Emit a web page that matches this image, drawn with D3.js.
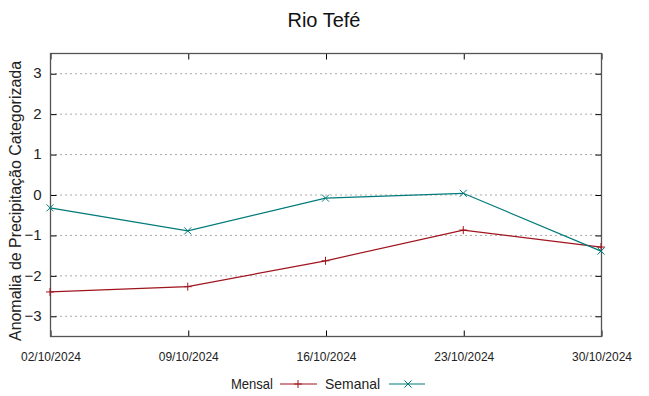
<!DOCTYPE html>
<html><head><meta charset="utf-8">
<script src="https://cdn.jsdelivr.net/npm/d3@7"></script>
<style>body{margin:0;background:#fff}svg{display:block}</style>
</head><body>
<svg id="c" width="649" height="396"></svg>
<script>
const dates = ["02/10/2024","09/10/2024","16/10/2024","23/10/2024","30/10/2024"];
const mensal = [-2.41, -2.28, -1.64, -0.88, -1.30];
const semanal = [-0.33, -0.90, -0.09, 0.03, -1.40];
const yTicks = [-3,-2,-1,0,1,2,3];
const title = "Rio Tefé";
const yLabel = "Anomalia de Precipitação Categorizada";

const svg = d3.select("#c");
const L = 50, R = 601, T = 53, B = 336;
const x = d3.scalePoint().domain(dates).range([L, R]);
const y = d3.scaleLinear().domain([-3.5, 3.5]).range([B, T]);
const red = "#a0141e", teal = "#007a7a";
const FONT = "Liberation Sans, Arial, sans-serif";

// grid
svg.append("g").selectAll("line").data(yTicks).join("line")
  .attr("x1", L).attr("x2", R).attr("y1", d => y(d)+0.5).attr("y2", d => y(d)+0.5)
  .attr("stroke", "#aaa").attr("stroke-width", 1).attr("stroke-dasharray", "2,3");

// axes with inward ticks
const yAxisL = d3.axisLeft(y).tickValues(yTicks).tickSize(-6).tickPadding(9).tickFormat(d3.format("d"));
const gy = svg.append("g").attr("transform", `translate(${L+0.5},0.5)`).call(yAxisL);
gy.select(".domain").remove();
gy.selectAll("text").attr("font-family", FONT).attr("font-size", 15).attr("fill", "#222").attr("dy", "0.28em");
gy.selectAll("line").attr("stroke", "#000");
const gyR = svg.append("g").attr("transform", `translate(${R+0.5},0.5)`).call(d3.axisRight(y).tickValues(yTicks).tickSize(-6).tickFormat(""));
gyR.select(".domain").remove();
gyR.selectAll("line").attr("stroke", "#000");

const gx = svg.append("g").attr("transform", `translate(0.5,${B+0.5})`).call(d3.axisBottom(x).tickSize(-6).tickPadding(16));
gx.select(".domain").remove();
gx.selectAll("text").attr("font-family", FONT).attr("font-size", 12).attr("fill", "#222");
gx.selectAll("line").attr("stroke", "#000");
const gxT = svg.append("g").attr("transform", `translate(0.5,${T+0.5})`).call(d3.axisTop(x).tickSize(-6).tickFormat(""));
gxT.select(".domain").remove();
gxT.selectAll("line").attr("stroke", "#000");

// frame
svg.append("rect").attr("x", L+0.5).attr("y", T+0.5).attr("width", R-L).attr("height", B-T)
  .attr("fill", "none").attr("stroke", "#555").attr("stroke-width", 1.3);

// lines
const line = d3.line().x((d,i) => x(dates[i])).y(d => y(d));
svg.append("path").datum(mensal).attr("d", line).attr("fill", "none").attr("stroke", red).attr("stroke-width", 1.2);
svg.append("path").datum(semanal).attr("d", line).attr("fill", "none").attr("stroke", teal).attr("stroke-width", 1.2);

function plus(g, cx, cy, c){ g.append("path").attr("d", `M${cx-4},${cy}H${cx+4}M${cx},${cy-4}V${cy+4}`).attr("stroke", c).attr("stroke-width", 1); }
function cross(g, cx, cy, c){ g.append("path").attr("d", `M${cx-3.5},${cy-3.5}L${cx+3.5},${cy+3.5}M${cx-3.5},${cy+3.5}L${cx+3.5},${cy-3.5}`).attr("stroke", c).attr("stroke-width", 1); }
const mk = svg.append("g");
mensal.forEach((v,i) => plus(mk, x(dates[i]), y(v), red));
semanal.forEach((v,i) => cross(mk, x(dates[i]), y(v), teal));

// title
svg.append("text").attr("x", 324).attr("y", 27).attr("text-anchor", "middle")
  .attr("font-family", FONT).attr("font-size", 20).attr("fill", "#111").text(title);
// y label
svg.append("text").attr("transform", `translate(21,201) rotate(-90)`).attr("text-anchor", "middle")
  .attr("font-family", FONT).attr("font-size", 16).attr("fill", "#222")
  .attr("textLength", 280).attr("lengthAdjust", "spacingAndGlyphs").text(yLabel);

// legend
const lg = svg.append("g").attr("font-family", FONT).attr("font-size", 15).attr("fill", "#222");
const ly = 384;
lg.append("text").attr("x", 231).attr("y", ly+5).attr("textLength", 42).attr("lengthAdjust", "spacingAndGlyphs").text("Mensal");
lg.append("line").attr("x1", 280).attr("x2", 317).attr("y1", ly).attr("y2", ly).attr("stroke", red).attr("stroke-width", 1.2);
plus(lg, 298, ly, red);
lg.append("text").attr("x", 325).attr("y", ly+5).attr("textLength", 55).attr("lengthAdjust", "spacingAndGlyphs").text("Semanal");
lg.append("line").attr("x1", 389).attr("x2", 425).attr("y1", ly).attr("y2", ly).attr("stroke", teal).attr("stroke-width", 1.2);
cross(lg, 408, ly, teal);
</script>
</body></html>
